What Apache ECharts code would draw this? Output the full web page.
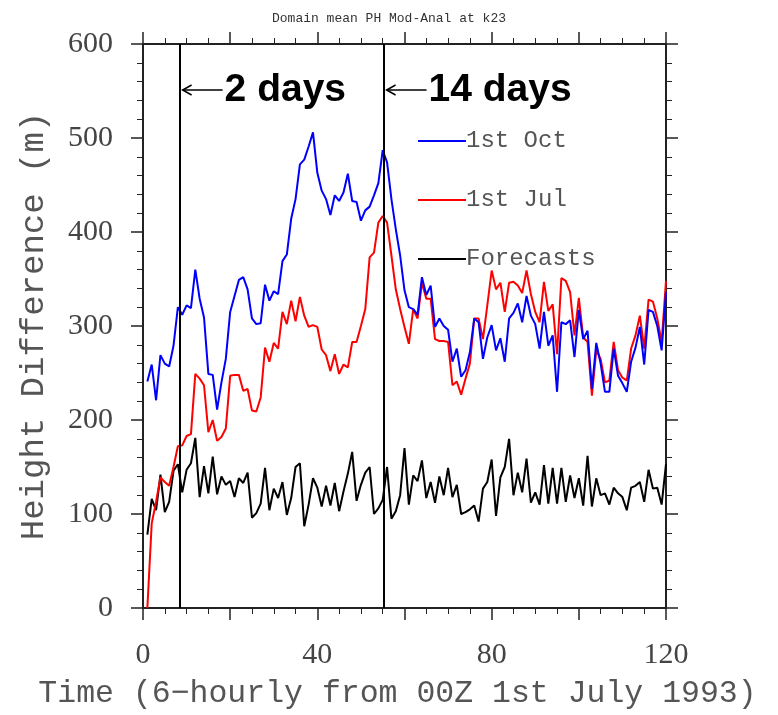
<!DOCTYPE html>
<html>
<head>
<meta charset="utf-8">
<title>Domain mean PH Mod-Anal at k23</title>
<script src="https://cdn.jsdelivr.net/npm/echarts@6/dist/echarts.min.js"></script>
<style>
  html, body { margin: 0; padding: 0; background: #fff; }
  #main { width: 778px; height: 715px; }
</style>
</head>
<body>
<div id="main"></div>
<script>
// height difference (m), one value per 6-hourly step starting at step 1
var octRun = [241, 259, 221, 269, 260, 257, 279, 320, 312, 322, 319, 360, 329, 309, 249, 248, 211, 240, 265, 315,
  332, 349, 352, 339, 308, 302, 303, 344, 327, 337, 334, 369, 376, 414, 435, 472, 477, 491, 506, 463,
  444, 435, 418, 439, 433, 442, 462, 433, 432, 412, 423, 427, 439, 452, 487, 474, 435, 403, 375, 338,
  320, 318, 312, 352, 333, 343, 299, 308, 300, 296, 262, 276, 246, 253, 272, 308, 304, 265, 288, 301,
  274, 287, 262, 308, 314, 324, 304, 332, 311, 302, 276, 315, 279, 290, 230, 304, 302, 306, 267, 317,
  286, 295, 233, 282, 260, 230, 230, 276, 247, 239, 230, 262, 277, 299, 259, 317, 315, 300, 274, 336];
var julRun = [0, 90, 113, 139, 134, 130, 150, 172, 173, 183, 185, 249, 244, 237, 187, 200, 178, 182, 191, 247,
  248, 248, 231, 233, 210, 209, 224, 277, 262, 282, 276, 315, 302, 327, 305, 331, 311, 299, 301, 299,
  275, 269, 252, 270, 249, 259, 256, 283, 283, 300, 318, 373, 378, 410, 417, 410, 375, 339, 318, 299,
  281, 318, 308, 346, 329, 329, 286, 284, 284, 283, 237, 241, 227, 244, 260, 308, 308, 286, 322, 359,
  339, 346, 315, 346, 347, 343, 335, 359, 334, 315, 304, 347, 316, 323, 270, 351, 348, 336, 290, 330,
  288, 283, 226, 274, 265, 240, 242, 283, 253, 245, 242, 276, 290, 311, 276, 328, 326, 308, 283, 348];
var forecasts = [78, 116, 104, 142, 102, 113, 146, 153, 123, 147, 154, 181, 118, 151, 122, 161, 121, 140, 131, 135,
  118, 138, 133, 144, 96, 101, 111, 149, 104, 127, 117, 134, 99, 117, 150, 154, 87, 110, 138, 128,
  108, 130, 109, 133, 103, 124, 143, 166, 114, 131, 144, 150, 100, 106, 115, 150, 95, 103, 120, 170,
  110, 141, 135, 157, 117, 134, 112, 140, 120, 149, 118, 131, 100, 102, 105, 109, 92, 127, 134, 158,
  98, 139, 150, 180, 120, 144, 123, 159, 112, 123, 110, 152, 111, 149, 111, 149, 113, 141, 117, 138,
  109, 162, 108, 138, 120, 122, 110, 128, 122, 118, 104, 128, 130, 134, 113, 147, 127, 128, 110, 153];

var seriesNames = ['1st Oct', '1st Jul', 'Forecasts'];
var xTickLabels = [0, 40, 80, 120];
var yTickLabels = [0, 100, 200, 300, 400, 500, 600];
var markTimes = [8.4, 55.2];
var markTexts = ['2 days', '14 days'];

function pairs(arr) {
  return arr.map(function (v, i) { return [i + 1, v]; });
}

var axisColor = '#222';
var labelColor = '#444';

function xAxisCfg(pos, withLabels) {
  return {
    type: 'value', position: pos, min: 0, max: 120, interval: 20,
    axisLine: { show: true, onZero: false, lineStyle: { color: axisColor, width: 2 } },
    axisTick: { show: true, inside: false, length: 12, lineStyle: { color: axisColor, width: 1.5 } },
    minorTick: { show: true, splitNumber: 4, length: 6, lineStyle: { color: axisColor, width: 1 } },
    splitLine: { show: false },
    axisLabel: {
      show: withLabels, margin: 32, color: labelColor, fontSize: 30, fontFamily: 'Liberation Serif',
      formatter: function (v) { return xTickLabels.indexOf(v) >= 0 ? String(v) : ''; }
    }
  };
}

function yAxisCfg(pos, withLabels) {
  return {
    type: 'value', position: pos, min: 0, max: 600, interval: 100,
    axisLine: { show: true, onZero: false, lineStyle: { color: axisColor, width: 2 } },
    axisTick: { show: true, inside: false, length: 12, lineStyle: { color: axisColor, width: 1.5 } },
    minorTick: { show: true, splitNumber: 5, length: 6, lineStyle: { color: axisColor, width: 1 } },
    splitLine: { show: false },
    axisLabel: {
      show: withLabels, margin: 30, color: labelColor, fontSize: 30, fontFamily: 'Liberation Serif',
      formatter: function (v) { return yTickLabels.indexOf(v) >= 0 ? String(v) : ''; }
    }
  };
}

var chart = echarts.init(document.getElementById('main'), null, { renderer: 'canvas' });

var xBottom = xAxisCfg('bottom', true);
xBottom.name = 'Time (6\u2212hourly from 00Z 1st July 1993)';
xBottom.nameLocation = 'middle';
xBottom.nameGap = 70;
xBottom.nameTextStyle = { color: '#555', fontSize: 31.5, fontFamily: 'Liberation Mono', padding: [0, 14, 0, 0] };

var yLeft = yAxisCfg('left', true);
yLeft.name = 'Height Difference (m)';
yLeft.nameLocation = 'middle';
yLeft.nameGap = 92;
yLeft.nameTextStyle = { color: '#555', fontSize: 34, fontFamily: 'Liberation Mono' };

var option = {
  animation: false,
  backgroundColor: '#fff',
  title: {
    text: 'Domain mean PH Mod-Anal at k23',
    left: 'center', top: 7,
    textStyle: { fontSize: 13, fontWeight: 'normal', color: '#333', fontFamily: 'Liberation Mono' }
  },
  legend: {
    data: seriesNames,
    orient: 'vertical',
    left: 413, top: 124,
    icon: 'rect',
    itemWidth: 48, itemHeight: 2, itemGap: 35,
    textStyle: { fontSize: 24, color: '#555', fontFamily: 'Liberation Mono', padding: [0, 0, 0, -5] }
  },
  grid: { left: 143, right: 112, top: 44, bottom: 105 },
  xAxis: [xBottom, xAxisCfg('top', false)],
  yAxis: [yLeft, yAxisCfg('right', false)],
  series: [
    {
      name: 'Forecasts', type: 'line', data: pairs(forecasts), symbol: 'none',
      lineStyle: { color: '#000', width: 2 }, itemStyle: { color: '#000' }, z: 2,
      markLine: {
        silent: true, symbol: ['none', 'none'], label: { show: false },
        lineStyle: { color: '#000', width: 2, type: 'solid' },
        data: markTimes.map(function (t) { return { xAxis: t }; })
      }
    },
    {
      name: '1st Jul', type: 'line', data: pairs(julRun), symbol: 'none',
      lineStyle: { color: '#ff0000', width: 2 }, itemStyle: { color: '#ff0000' }, z: 3
    },
    {
      name: '1st Oct', type: 'line', data: pairs(octRun), symbol: 'none',
      lineStyle: { color: '#0000ff', width: 2 }, itemStyle: { color: '#0000ff' }, z: 4
    }
  ]
};
chart.setOption(option);

// arrows + labels next to the two vertical marker lines
var yTop = chart.convertToPixel({ yAxisIndex: 0 }, 600);
var arrowY = yTop + 46;
var graphics = [];
markTimes.forEach(function (t, i) {
  var x0 = chart.convertToPixel({ xAxisIndex: 0 }, t) + 3;
  graphics.push({
    type: 'polyline', silent: true,
    shape: { points: [[x0 + 40, arrowY], [x0, arrowY]] },
    style: { stroke: '#000', lineWidth: 1.5, fill: null }
  });
  graphics.push({
    type: 'polyline', silent: true,
    shape: { points: [[x0 + 9, arrowY - 5], [x0, arrowY], [x0 + 9, arrowY + 5]] },
    style: { stroke: '#000', lineWidth: 1.5, fill: null }
  });
  graphics.push({
    type: 'text', silent: true, x: x0 + 42, y: arrowY,
    style: {
      text: markTexts[i], fill: '#000', fontSize: 39, fontWeight: 'bold',
      fontFamily: 'Liberation Sans', verticalAlign: 'middle', align: 'left'
    }
  });
});
chart.setOption({ graphic: graphics });
</script>
</body>
</html>
